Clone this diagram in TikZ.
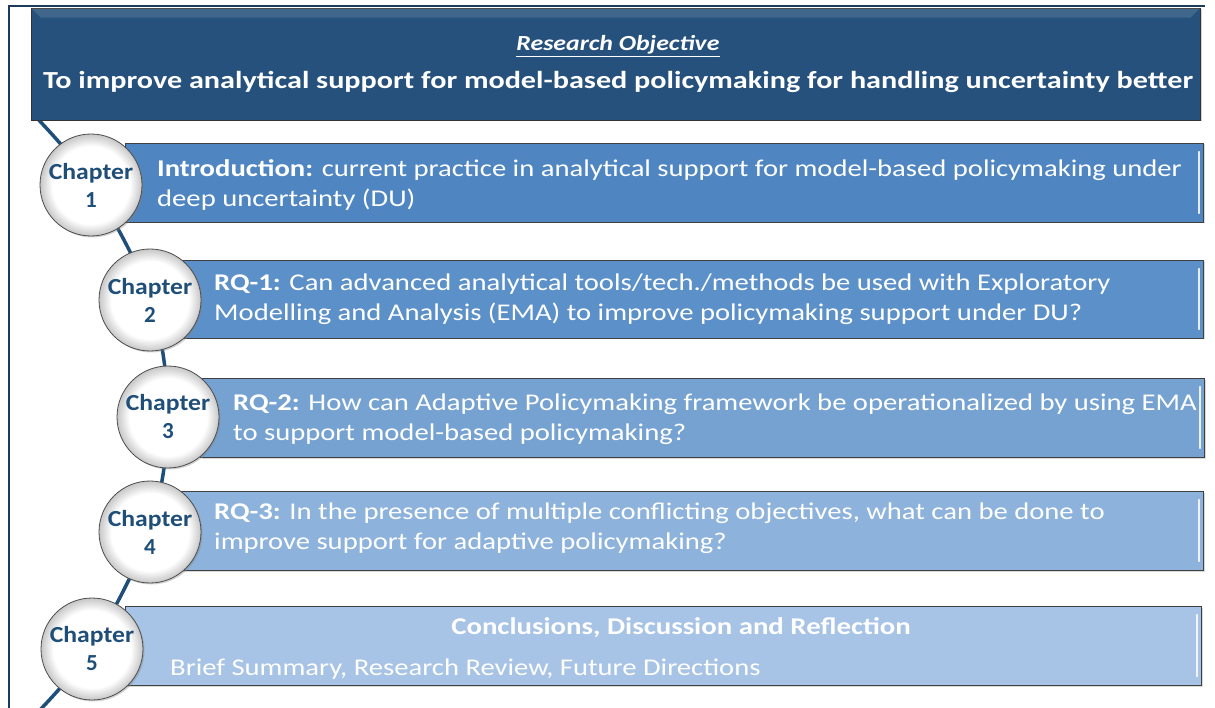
\documentclass[tikz,border=0pt]{standalone}
\usepackage{fontspec}
\setmainfont{Carlito}
\usetikzlibrary{shadows}
\definecolor{bannerc}{HTML}{26517C}
\definecolor{spinec}{HTML}{1F4E79}
\definecolor{chapc}{HTML}{1F4E79}
\definecolor{framec}{HTML}{1C3A5C}
\definecolor{boxA}{HTML}{4F86C1}
\definecolor{boxB}{HTML}{5C90C8}
\definecolor{boxC}{HTML}{76A2D2}
\definecolor{boxD}{HTML}{8DB2DC}
\definecolor{boxE}{HTML}{A7C3E5}
\pgfdeclareradialshading{chapball}{\pgfpoint{0bp}{0bp}}{color(0bp)=(white); color(19bp)=(white); color(25bp)=(black!22); color(50bp)=(black!22)}
\newcommand{\hs}[1]{\scalebox{1.193}[1]{#1}}
\begin{document}
\begin{tikzpicture}[x=1pt,y=-1pt,
  chbox/.style={draw=black!75, line width=0.8pt, rectangle, inner sep=0pt,
    drop shadow={shadow xshift=1.5pt, shadow yshift=-1.5pt, opacity=0.3}},
  chcirc/.style={circle, draw=black!70, line width=0.8pt, minimum size=102pt, inner sep=0pt,
    shading=chapball, align=center, text=chapc,
    font=\fontsize{23}{28}\selectfont\bfseries,
    drop shadow={shadow xshift=1.5pt, shadow yshift=-1.5pt, opacity=0.35}},
  chtext/.style={anchor=west, align=left, text=white, inner sep=0pt,
    font=\fontsize{24}{30}\selectfont},
  spine/.style={draw=spinec, line width=3.5pt},
  hilite/.style={draw=white, line width=1.3pt, opacity=0.85, line cap=round}
]
\useasboundingbox (0,0) rectangle (1215,708);
% frame
\draw[framec, line width=2pt] (9,708) -- (9,6) -- (1205,6);
% spine coordinates
\coordinate (s0) at (33,114);
\coordinate (p1) at (91,183);
\coordinate (p2) at (150,298);
\coordinate (p3) at (168,415);
\coordinate (p4) at (150,530);
\coordinate (p5) at (92,647);
\coordinate (s1) at (36,714);
\draw[spine] plot[smooth, tension=0.55] coordinates {(s0) (p1) (p2) (p3) (p4) (p5) (s1)};
% banner
\node[draw=black!80, line width=0.8pt, fill=bannerc, minimum width=1169pt, minimum height=112pt, inner sep=0pt,
  drop shadow={shadow xshift=1.5pt, shadow yshift=-1.5pt, opacity=0.35}] (obj) at (615.5,64) {};
\fill[white, opacity=0.12] (obj.north west) -- (obj.north east) -- ([xshift=-10pt,yshift=-10pt]obj.north east) -- ([xshift=10pt,yshift=-10pt]obj.north west) -- cycle;
\node[text=white, font=\fontsize{21.5}{24}\selectfont\bfseries\itshape, inner sep=0pt] (objt) at (618,46) {\scalebox{1.2}[1]{\underline{Research Objective}}};
\node[text=white, font=\fontsize{24.5}{28}\selectfont\bfseries, inner sep=0pt] (objm) at (618,82) {\scalebox{1.232}[1]{To improve analytical support for model-based policymaking for handling uncertainty better}};
% boxes
\node[chbox, fill=boxA, minimum width=1078pt, minimum height=79pt] (b1) at (664,182.5) {};
\node[chbox, fill=boxB, minimum width=1023pt, minimum height=78pt] (b2) at (691.5,299) {};
\node[chbox, fill=boxC, minimum width=1004pt, minimum height=79pt] (b3) at (702,417.5) {};
\node[chbox, fill=boxD, minimum width=1023pt, minimum height=79pt] (b4) at (691.5,530.5) {};
\node[chbox, fill=boxE, minimum width=1076pt, minimum height=79pt] (b5) at (663,645.5) {};
\foreach \b in {b1,b2,b3,b4,b5}{
  \draw[hilite] ([xshift=-4.5pt,yshift=-9pt]\b.north east) -- ([xshift=-4.5pt,yshift=9pt]\b.south east);
}
% texts
\node[chtext] (t1) at (157,185) {\hs{\textbf{Introduction:} current practice in analytical support for model-based policymaking under}\\\hs{deep uncertainty (DU)}};
\node[chtext] (t2) at (214,299.5) {\hs{\textbf{RQ-1:} Can advanced analytical tools/tech./methods be used with Exploratory}\\\hs{Modelling and Analysis (EMA) to improve policymaking support under DU?}};
\node[chtext] (t3) at (233,419.5) {\hs{\textbf{RQ-2:} How can Adaptive Policymaking framework be operationalized by using EMA}\\\hs{to support model-based policymaking?}};
\node[chtext] (t4) at (214,528.5) {\hs{\textbf{RQ-3:} In the presence of multiple conflicting objectives, what can be done to}\\\hs{improve support for adaptive policymaking?}};
\node[text=white, inner sep=0pt, font=\fontsize{24}{28}\selectfont\bfseries] (t5a) at (681,628) {\scalebox{1.2}[1]{Conclusions, Discussion and Reflection}};
\node[chtext] (t5b) at (170,669) {\hs{Brief Summary, Research Review, Future Directions}};
% circles
\node[chcirc] (c1) at ([yshift=-2pt]p1) {\scalebox{1.116}[1]{Chapter}\\1};
\node[chcirc] (c2) at ([yshift=-2pt]p2) {\scalebox{1.116}[1]{Chapter}\\2};
\node[chcirc] (c3) at ([yshift=-2pt]p3) {\scalebox{1.116}[1]{Chapter}\\3};
\node[chcirc] (c4) at ([yshift=-2pt]p4) {\scalebox{1.116}[1]{Chapter}\\4};
\node[chcirc] (c5) at ([yshift=-2pt]p5) {\scalebox{1.116}[1]{Chapter}\\5};
\end{tikzpicture}
\end{document}
